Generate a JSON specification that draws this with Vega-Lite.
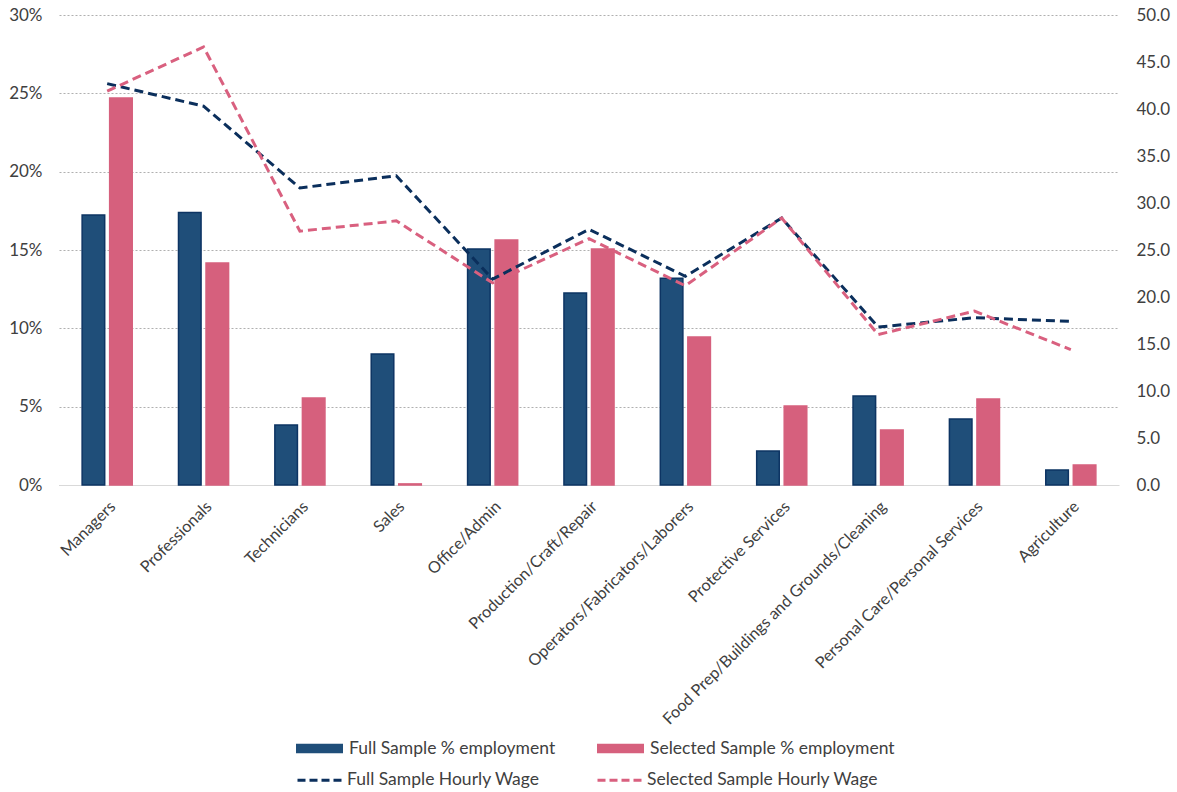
{
  "$schema": "https://vega.github.io/schema/vega-lite/v6.json",
  "width": 1060,
  "height": 470,
  "padding": {"left": 8, "top": 6, "right": 5, "bottom": 5},
  "config": {
    "font": "Lato",
    "view": {"stroke": null},
    "axis": {"labelFont": "Lato", "labelColor": "#404040"},
    "legend": {"labelFont": "Lato", "labelColor": "#404040"}
  },
  "datasets": {
    "emp": [
      {"occ": "Managers", "series": "Full Sample % employment", "pct": 0.1723},
      {"occ": "Managers", "series": "Selected Sample % employment", "pct": 0.247},
      {"occ": "Professionals", "series": "Full Sample % employment", "pct": 0.174},
      {"occ": "Professionals", "series": "Selected Sample % employment", "pct": 0.1417},
      {"occ": "Technicians", "series": "Full Sample % employment", "pct": 0.0383},
      {"occ": "Technicians", "series": "Selected Sample % employment", "pct": 0.0555},
      {"occ": "Sales", "series": "Full Sample % employment", "pct": 0.0836},
      {"occ": "Sales", "series": "Selected Sample % employment", "pct": 0.0007},
      {"occ": "Office/Admin", "series": "Full Sample % employment", "pct": 0.1506},
      {"occ": "Office/Admin", "series": "Selected Sample % employment", "pct": 0.1564},
      {"occ": "Production/Craft/Repair", "series": "Full Sample % employment", "pct": 0.1225},
      {"occ": "Production/Craft/Repair", "series": "Selected Sample % employment", "pct": 0.1506},
      {"occ": "Operators/Fabricators/Laborers", "series": "Full Sample % employment", "pct": 0.132},
      {"occ": "Operators/Fabricators/Laborers", "series": "Selected Sample % employment", "pct": 0.0944},
      {"occ": "Protective Services", "series": "Full Sample % employment", "pct": 0.0217},
      {"occ": "Protective Services", "series": "Selected Sample % employment", "pct": 0.0504},
      {"occ": "Food Prep/Buildings and Grounds/Cleaning", "series": "Full Sample % employment", "pct": 0.0568},
      {"occ": "Food Prep/Buildings and Grounds/Cleaning", "series": "Selected Sample % employment", "pct": 0.0351},
      {"occ": "Personal Care/Personal Services", "series": "Full Sample % employment", "pct": 0.0421},
      {"occ": "Personal Care/Personal Services", "series": "Selected Sample % employment", "pct": 0.0549},
      {"occ": "Agriculture", "series": "Full Sample % employment", "pct": 0.0096},
      {"occ": "Agriculture", "series": "Selected Sample % employment", "pct": 0.0128}
    ],
    "wage": [
      {"occ": "Managers", "series": "Full Sample Hourly Wage", "wage": 42.7},
      {"occ": "Professionals", "series": "Full Sample Hourly Wage", "wage": 40.3},
      {"occ": "Technicians", "series": "Full Sample Hourly Wage", "wage": 31.6},
      {"occ": "Sales", "series": "Full Sample Hourly Wage", "wage": 32.9},
      {"occ": "Office/Admin", "series": "Full Sample Hourly Wage", "wage": 21.9},
      {"occ": "Production/Craft/Repair", "series": "Full Sample Hourly Wage", "wage": 27.2},
      {"occ": "Operators/Fabricators/Laborers", "series": "Full Sample Hourly Wage", "wage": 22.2},
      {"occ": "Protective Services", "series": "Full Sample Hourly Wage", "wage": 28.4},
      {"occ": "Food Prep/Buildings and Grounds/Cleaning", "series": "Full Sample Hourly Wage", "wage": 16.8},
      {"occ": "Personal Care/Personal Services", "series": "Full Sample Hourly Wage", "wage": 17.8},
      {"occ": "Agriculture", "series": "Full Sample Hourly Wage", "wage": 17.4},
      {"occ": "Managers", "series": "Selected Sample Hourly Wage", "wage": 41.9},
      {"occ": "Professionals", "series": "Selected Sample Hourly Wage", "wage": 46.6},
      {"occ": "Technicians", "series": "Selected Sample Hourly Wage", "wage": 27.0},
      {"occ": "Sales", "series": "Selected Sample Hourly Wage", "wage": 28.1},
      {"occ": "Office/Admin", "series": "Selected Sample Hourly Wage", "wage": 21.5},
      {"occ": "Production/Craft/Repair", "series": "Selected Sample Hourly Wage", "wage": 26.2},
      {"occ": "Operators/Fabricators/Laborers", "series": "Selected Sample Hourly Wage", "wage": 21.2},
      {"occ": "Protective Services", "series": "Selected Sample Hourly Wage", "wage": 28.4},
      {"occ": "Food Prep/Buildings and Grounds/Cleaning", "series": "Selected Sample Hourly Wage", "wage": 16.0},
      {"occ": "Personal Care/Personal Services", "series": "Selected Sample Hourly Wage", "wage": 18.5},
      {"occ": "Agriculture", "series": "Selected Sample Hourly Wage", "wage": 14.4}
    ]
  },
  "layer": [
    {
      "data": {"name": "emp"},
      "mark": {"type": "bar", "strokeWidth": 1.5},
      "encoding": {
        "x": {
          "field": "occ", "type": "nominal",
          "sort": ["Managers", "Professionals", "Technicians", "Sales", "Office/Admin", "Production/Craft/Repair", "Operators/Fabricators/Laborers", "Protective Services", "Food Prep/Buildings and Grounds/Cleaning", "Personal Care/Personal Services", "Agriculture"],
          "scale": {"paddingInner": 0.48, "paddingOuter": 0.24},
          "axis": {"title": null, "labelAngle": -45, "labelFontSize": 16.2, "ticks": false, "domainColor": "#d9d9d9", "labelPadding": 13, "grid": false, "labelLimit": 400}
        },
        "xOffset": {
          "field": "series", "type": "nominal",
          "sort": ["Full Sample % employment", "Selected Sample % employment"],
          "scale": {"paddingInner": 0.18}
        },
        "y": {
          "field": "pct", "type": "quantitative",
          "scale": {"domain": [0, 0.3]},
          "axis": {"title": null, "format": ".0%", "values": [0, 0.05, 0.1, 0.15, 0.2, 0.25, 0.3], "grid": true, "gridDash": [2, 2], "gridColor": "#b0b0b0", "gridWidth": 1.2, "domain": false, "ticks": false, "labelFontSize": 17, "labelPadding": 17}
        },
        "fill": {
          "field": "series", "type": "nominal",
          "scale": {
            "domain": ["Full Sample % employment", "Selected Sample % employment"],
            "range": ["#1F4E79", "#D6607D"]
          },
          "legend": {
            "orient": "none",
            "direction": "horizontal",
            "legendX": 237,
            "legendY": 710,
            "padding": 0,
            "title": null,
            "labelFontSize": 17.5,
            "labelLimit": 400,
            "symbolType": "M-1,-0.2H1V0.2H-1Z",
            "symbolSize": 2209,
            "symbolStrokeWidth": 0,
            "columnPadding": 41,
            "labelOffset": 6
          }
        },
        "stroke": {
          "condition": {"test": "datum.series === 'Full Sample % employment'", "value": "#0D3463"},
          "value": "#D6607D"
        }
      }
    },
    {
      "data": {"name": "wage"},
      "mark": {"type": "line", "strokeDash": [9, 5], "strokeWidth": 3},
      "encoding": {
        "x": {
          "field": "occ", "type": "nominal",
          "sort": ["Managers", "Professionals", "Technicians", "Sales", "Office/Admin", "Production/Craft/Repair", "Operators/Fabricators/Laborers", "Protective Services", "Food Prep/Buildings and Grounds/Cleaning", "Personal Care/Personal Services", "Agriculture"]
        },
        "y": {
          "field": "wage", "type": "quantitative",
          "scale": {"domain": [0, 50]},
          "axis": {"orient": "right", "title": null, "format": ".1f", "values": [0, 5, 10, 15, 20, 25, 30, 35, 40, 45, 50], "grid": false, "domain": false, "ticks": false, "labelFontSize": 17, "labelPadding": 17}
        },
        "stroke": {
          "field": "series", "type": "nominal",
          "scale": {
            "domain": ["Full Sample Hourly Wage", "Selected Sample Hourly Wage"],
            "range": ["#0B2F5C", "#D9607F"]
          },
          "legend": {
            "orient": "none",
            "direction": "horizontal",
            "legendX": 237,
            "legendY": 740,
            "padding": 0,
            "title": null,
            "labelFontSize": 17.5,
            "labelLimit": 400,
            "symbolType": "stroke",
            "symbolSize": 2209,
            "symbolDash": [8, 4],
            "symbolStrokeWidth": 3,
            "columnPadding": 51,
            "labelOffset": 1
          }
        }
      }
    }
  ],
  "resolve": {"scale": {"y": "independent"}}
}
